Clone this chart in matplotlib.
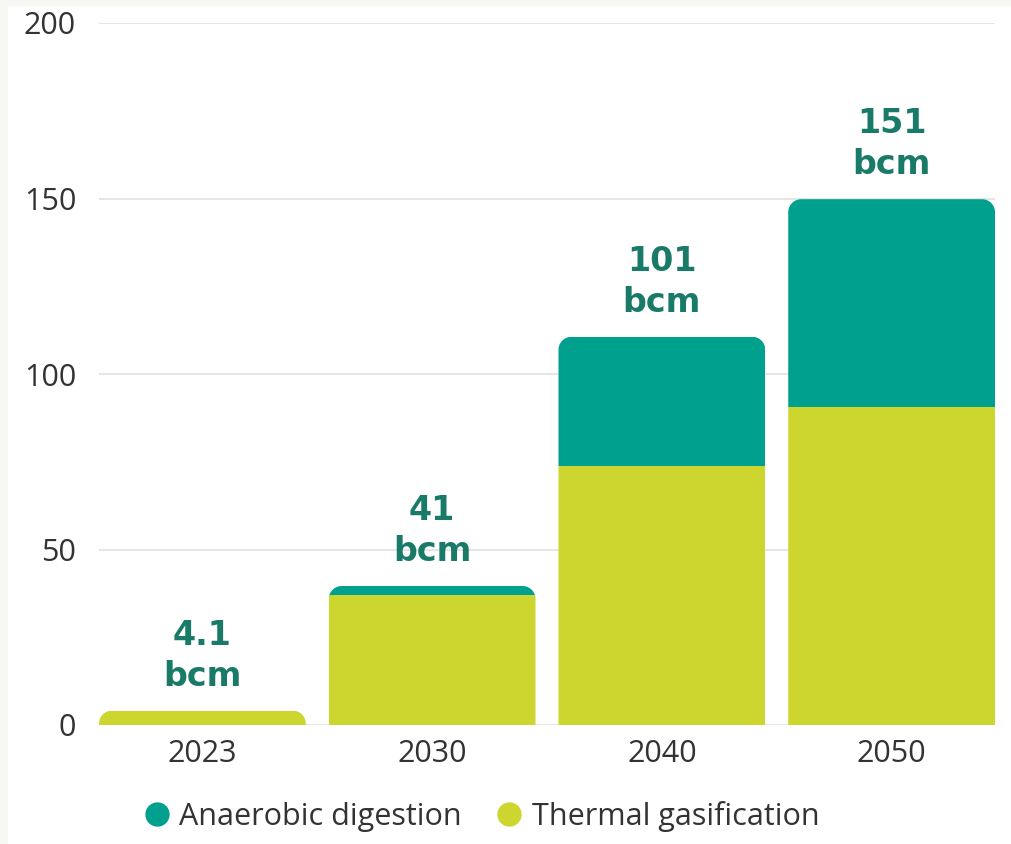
import matplotlib
matplotlib.use("Agg")
import matplotlib.pyplot as plt
import numpy as np
from matplotlib.path import Path
from matplotlib.patches import Rectangle
from matplotlib.lines import Line2D

# Biomethane production by route (bcm)
years = ["2023", "2030", "2040", "2050"]
thermal_gasification = [4.1, 37.0, 73.8, 90.7]
anaerobic_digestion = [0.0, 2.6, 36.8, 59.1]
total_labels = ["4.1", "41", "101", "151"]
y_ticks = [0, 50, 100, 150, 200]

TEAL = "#00a08f"
LIME = "#cdd62f"
LABEL_GREEN = "#197a68"
TICK_COLOR = "#333333"
GRID_COLOR = "#e3e3e3"

W, H, DPI = 1012, 844, 100
fig = plt.figure(figsize=(W / DPI, H / DPI), dpi=DPI, facecolor="white")

# faint off-white margin along the left and top edges
fig.patches.append(Rectangle((0, 0), 8 / W, 1, transform=fig.transFigure,
                             facecolor="#f7f8f3", edgecolor="none", zorder=-10))
fig.patches.append(Rectangle((0, 1 - 6 / H), 1, 6 / H, transform=fig.transFigure,
                             facecolor="#f7f8f3", edgecolor="none", zorder=-10))

ax_left, ax_right, ax_top, ax_bottom = 99, 995, 23, 725
ax = fig.add_axes([ax_left / W, 1 - ax_bottom / H,
                   (ax_right - ax_left) / W, (ax_bottom - ax_top) / H])

bar_width = 0.9
x = np.arange(len(years))
ax.set_xlim(-bar_width / 2, len(years) - 1 + bar_width / 2)
ax.set_ylim(0, 200)

bars_tg = ax.bar(x, thermal_gasification, width=bar_width, color=LIME,
                 linewidth=0, zorder=3, label="Thermal gasification")
bars_ad = ax.bar(x, anaerobic_digestion, width=bar_width, bottom=thermal_gasification,
                 color=TEAL, linewidth=0, zorder=3, label="Anaerobic digestion")

# rounded top corners on each stacked column
px_per_x = (ax_right - ax_left) / (ax.get_xlim()[1] - ax.get_xlim()[0])
px_per_y = (ax_bottom - ax_top) / 200.0
radius_px = 13
rx = radius_px / px_per_x
ry = radius_px / px_per_y


def rounded_top_path(xc, w, top):
    x0, x1 = xc - w / 2, xc + w / 2
    r_y = min(ry, top)
    t = np.linspace(0, np.pi / 2, 24)
    left_arc = [(x0 + rx - rx * np.cos(a), top - r_y + r_y * np.sin(a)) for a in t]
    right_arc = [(x1 - rx + rx * np.cos(a), top - r_y + r_y * np.sin(a)) for a in t[::-1]]
    pts = [(x0, 0)] + left_arc + right_arc + [(x1, 0), (x0, 0)]
    codes = [Path.MOVETO] + [Path.LINETO] * (len(pts) - 2) + [Path.CLOSEPOLY]
    return Path(pts, codes)


label_style = dict(textcoords="offset points", ha="center", va="baseline",
                   fontsize=24, fontweight="bold", color=LABEL_GREEN,
                   family="DejaVu Sans", zorder=4)

for i in range(len(years)):
    total = thermal_gasification[i] + anaerobic_digestion[i]
    clip = rounded_top_path(x[i], bar_width, total)
    for bar in (bars_tg[i], bars_ad[i]):
        bar.set_clip_path(clip, ax.transData)

    ax.annotate("bcm", xy=(x[i], total), xytext=(0, 18), **label_style)
    ax.annotate(total_labels[i], xy=(x[i], total), xytext=(0, 47.5), **label_style)

# axes styling
for s in ax.spines.values():
    s.set_visible(False)
ax.set_yticks(y_ticks)
ax.yaxis.grid(True, color=GRID_COLOR, linewidth=1.3, zorder=0)
ax.set_axisbelow(True)
ax.tick_params(axis="both", length=0, labelsize=22, labelcolor=TICK_COLOR)
ax.tick_params(axis="y", pad=16.5)
ax.tick_params(axis="x", pad=10)
ax.set_xticks(x)
ax.set_xticklabels(years)
for lbl in ax.get_xticklabels() + ax.get_yticklabels():
    lbl.set_family("Open Sans")

handles = [Line2D([], [], marker="o", linestyle="none", markersize=17.5,
                  markerfacecolor=TEAL, markeredgecolor="none"),
           Line2D([], [], marker="o", linestyle="none", markersize=17.5,
                  markerfacecolor=LIME, markeredgecolor="none")]
fig.legend(handles, ["Anaerobic digestion", "Thermal gasification"],
           loc="center", bbox_to_anchor=(482 / W, 1 - 816 / H), ncol=2,
           frameon=False, prop={"family": "Open Sans", "size": 22},
           handletextpad=0.33, columnspacing=1.15, labelcolor=TICK_COLOR,
           handlelength=0.8, borderpad=0, borderaxespad=0)

fig.savefig("out.png", dpi=DPI, facecolor="white")
